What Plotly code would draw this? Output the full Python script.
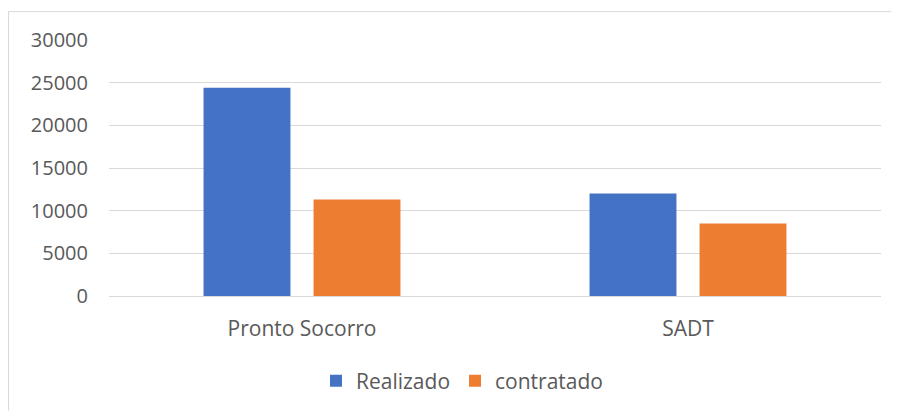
import plotly.graph_objects as go

categories = ["Pronto Socorro", "SADT"]
realizado = [24400, 12000]
contratado = [11300, 8500]
y_ticks = [0, 5000, 10000, 15000, 20000, 25000, 30000]

FONT = "Open Sans"
TXT = "#595959"

fig = go.Figure()
fig.add_trace(go.Bar(name="Realizado", x=categories, y=realizado, marker_color="#4472C4",
                     marker_line_width=0))
fig.add_trace(go.Bar(name="contratado", x=categories, y=contratado, marker_color="#ED7D31",
                     marker_line_width=0))

OFF = 8  # page offset of the figure inside the window
W, H = 891, 404
# plot area in screen coords: x 109..881, y 40.5..297
L = 109 - OFF
T = 40 - OFF
pw = 881 - 109
ph = 297 - 40
R = W - L - pw
B = H - T - ph

def px(x):
    return (x - OFF - L) / pw

def py(y):
    return (T + ph - (y - OFF)) / ph

frame = dict(color="#D9D9D9", width=1)

fig.update_layout(
    width=W, height=H,
    margin=dict(l=L, r=R, t=T, b=B),
    paper_bgcolor="white", plot_bgcolor="white",
    barmode="group", bargap=0.43, bargroupgap=0.21,
    font=dict(family=FONT, color=TXT, size=20),
    showlegend=True,
    legend=dict(orientation="h", x=px(462), xanchor="center", y=py(381), yanchor="middle",
                font=dict(size=21, color=TXT), itemwidth=30, traceorder="normal"),
    xaxis=dict(showgrid=False, showline=False, ticks="", ticklabelstandoff=18,
               tickfont=dict(size=21, color=TXT), zeroline=False),
    yaxis=dict(range=[0, 30000], tickvals=y_ticks, ticktext=[str(v) for v in y_ticks],
               showgrid=True, gridcolor="#D9D9D9", gridwidth=1.3,
               zeroline=True, zerolinecolor="#D9D9D9", zerolinewidth=1.3,
               showline=False, ticks="", ticklabelstandoff=20,
               tickfont=dict(size=20, color=TXT)),
    shapes=[
        dict(type="line", xref="paper", yref="paper",
             x0=px(8.5), x1=px(8.5), y0=py(11.5), y1=py(412), line=frame, layer="below"),
        dict(type="line", xref="paper", yref="paper",
             x0=px(8.5), x1=px(899), y0=py(11.5), y1=py(11.5), line=frame, layer="below"),
    ],
)

fig.write_html("out.html")
